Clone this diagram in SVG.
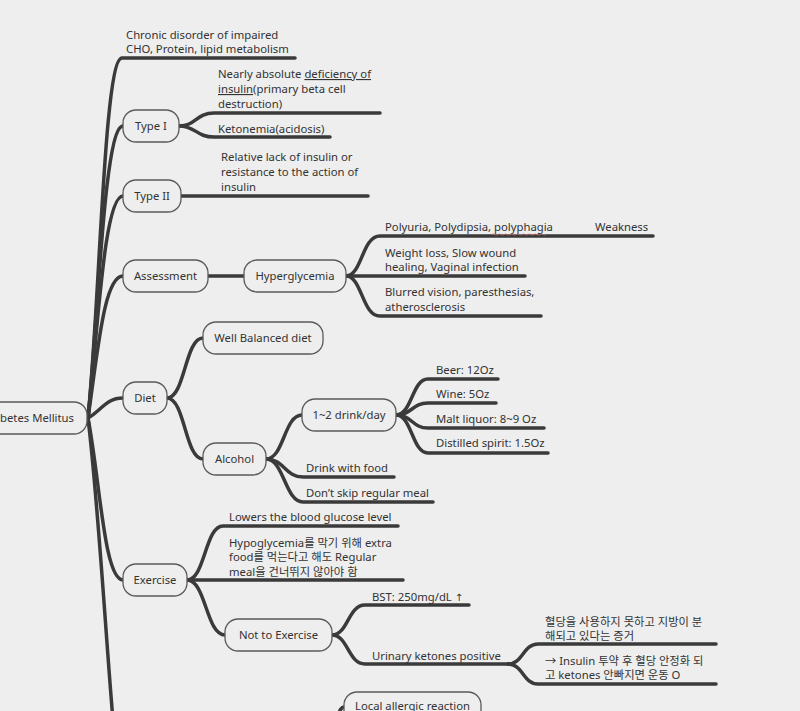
<svg xmlns="http://www.w3.org/2000/svg" width="800" height="711" viewBox="0 0 800 711">
<style>
text{font-family:"Noto Sans","Noto Sans CJK KR",sans-serif;font-size:11.3px;fill:#333}
.n rect{fill:#eeeeee;stroke:#5a5a5a;stroke-width:1.3}
.n text{text-anchor:middle}
.c path{fill:none;stroke:#3a3a3a;stroke-width:3.5;stroke-linecap:round}
.u{text-decoration:underline}
.ar{font-family:"DejaVu Sans",sans-serif;font-size:10px}
</style>
<rect width="800" height="711" fill="#eeeeee"/>
<g class="c" id="connectors">
<path d="M88,418 C100,300 104,58 122,58 L295,58"/>
<path d="M88,418 C98,320 104,126 123,126"/>
<path d="M88,418 C98,330 104,196 123,196"/>
<path d="M88,418 C98,350 104,276 123,276"/>
<path d="M88,418 C102,410 106,398 123,398"/>
<path d="M88,418 C100,480 104,580 123,580"/>
<path d="M88,418 C98,500 106,640 113,720"/>
<path d="M179,126 C196,126 196,113 214,113 L380,113"/>
<path d="M179,126 C196,126 196,137 214,137 L330,137"/>
<path d="M181,196 L368,196"/>
<path d="M208,276 L244,276"/>
<path d="M346,276 C362,276 362,236 380,236 L653,236"/>
<path d="M346,276 L525,276"/>
<path d="M346,276 C362,276 362,316 380,316 L541,316"/>
<path d="M167,398 C185,398 185,338 203,338"/>
<path d="M167,398 C185,398 185,459 203,459"/>
<path d="M266,459 C284,459 284,415 302,415"/>
<path d="M266,459 C284,459 285,477 303,477 L394,477"/>
<path d="M266,459 C284,459 285,502 303,502 L433,502"/>
<path d="M396,415 C412,415 412,379 428,379 L498,379"/>
<path d="M396,415 C412,415 412,403 428,403 L496,403"/>
<path d="M396,415 C412,415 412,428 428,428 L544,428"/>
<path d="M396,415 C412,415 412,453 428,453 L548,453"/>
<path d="M187,580 C205,580 205,526 223,526 L398,526"/>
<path d="M187,580 L403,580"/>
<path d="M187,580 C206,580 206,635 225,635"/>
<path d="M332,635 C348,635 348,605 365,605 L469,605"/>
<path d="M332,635 C348,635 348,664 365,664 L508,664"/>
<path d="M508,664 C523,664 523,644 538,644 L716,644"/>
<path d="M508,664 C523,664 523,684 538,684 L716,684"/>
<path d="M334,724 C339,714 340,707 344,707"/>
</g>
<g class="n" id="root"><rect x="-40" y="402" width="127" height="32" rx="13"/><text x="74" y="422" style="text-anchor:end">Diabetes Mellitus</text></g>
<g class="n" id="type1"><rect x="123" y="110" width="56" height="32" rx="13"/><text x="151" y="130">Type I</text></g>
<g class="n" id="type2"><rect x="123" y="180" width="58" height="32" rx="13"/><text x="152" y="200">Type II</text></g>
<g class="n" id="assessment"><rect x="123" y="260" width="85" height="32" rx="13"/><text x="165.5" y="280">Assessment</text></g>
<g class="n" id="hyperglycemia"><rect x="244" y="260" width="102" height="32" rx="13"/><text x="295" y="280">Hyperglycemia</text></g>
<g class="n" id="diet"><rect x="123" y="382" width="44" height="32" rx="13"/><text x="145" y="402">Diet</text></g>
<g class="n" id="wellbalanced"><rect x="203" y="322" width="120" height="32" rx="13"/><text x="263" y="342">Well Balanced diet</text></g>
<g class="n" id="alcohol"><rect x="203" y="443" width="63" height="32" rx="13"/><text x="234.5" y="463">Alcohol</text></g>
<g class="n" id="drinkday"><rect x="302" y="399" width="94" height="32" rx="13"/><text x="349" y="419">1~2 drink/day</text></g>
<g class="n" id="exercise"><rect x="123" y="564" width="64" height="32" rx="13"/><text x="155" y="584">Exercise</text></g>
<g class="n" id="notexercise"><rect x="225" y="619" width="107" height="32" rx="13"/><text x="278.5" y="639">Not to Exercise</text></g>
<g class="n" id="allergic"><rect x="344" y="692" width="137" height="34" rx="13"/><text x="412.5" y="710">Local allergic reaction</text></g>
<g id="labels">
<text x="126" y="39">Chronic disorder of impaired</text>
<text x="126" y="53">CHO, Protein, lipid metabolism</text>
<text x="218" y="78">Nearly absolute <tspan class="u">deficiency of</tspan></text>
<text x="218" y="93"><tspan class="u">insulin</tspan>(primary beta cell</text>
<text x="218" y="108">destruction)</text>
<text x="218" y="133">Ketonemia(acidosis)</text>
<text x="221" y="161">Relative lack of insulin or</text>
<text x="221" y="176">resistance to the action of</text>
<text x="221" y="191">insulin</text>
<text x="385" y="231">Polyuria, Polydipsia, polyphagia</text>
<path d="M492,234.5 q1.5,-1.5 3,0 t3,0 t3,0 t3,0 t3,0 t3,0 t3,0 t3,0 t3,0 t3,0 t3,0 t3,0 t3,0 t3,0 t3,0 t3,0 t3,0 t3,0" fill="none" stroke="#e07070" stroke-width="0.8" opacity="0.7"/>
<text x="595" y="231">Weakness</text>
<text x="385" y="257">Weight loss, Slow wound</text>
<text x="385" y="271">healing, Vaginal infection</text>
<text x="385" y="296">Blurred vision, paresthesias,</text>
<text x="385" y="311">atherosclerosis</text>
<text x="436" y="374">Beer: 12Oz</text>
<text x="436" y="398">Wine: 5Oz</text>
<text x="436" y="423">Malt liquor: 8~9 Oz</text>
<text x="436" y="447">Distilled spirit: 1.5Oz</text>
<text x="306" y="472">Drink with food</text>
<text x="306" y="497">Don’t skip regular meal</text>
<text x="229" y="521">Lowers the blood glucose level</text>
<text x="229" y="547">Hypoglycemia를 막기 위해 extra</text>
<text x="229" y="561">food를 먹는다고 해도 Regular</text>
<text x="229" y="576">meal을 건너뛰지 않아야 함</text>
<text x="372" y="601">BST: 250mg/dL <tspan class="ar">↑</tspan></text>
<text x="372" y="660">Urinary ketones positive</text>
<text x="545" y="626">혈당을 사용하지 못하고 지방이 분</text>
<text x="545" y="640">해되고 있다는 증거</text>
<text x="545" y="665">→ Insulin  투약 후 혈당 안정화 되</text>
<text x="545" y="679">고 ketones 안빠지면 운동 O</text>
</g>
</svg>
